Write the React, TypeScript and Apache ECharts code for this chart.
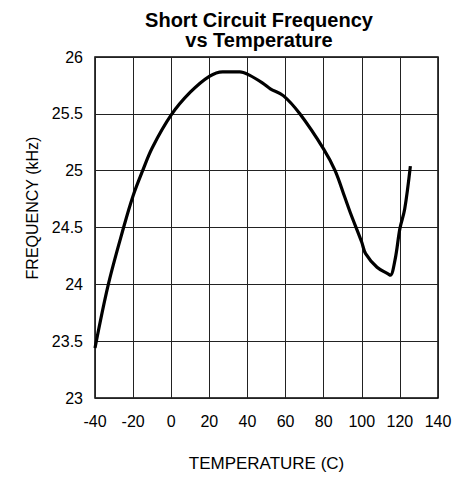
import React, { useEffect, useRef } from "react";
import * as echarts from "echarts";

const temperatures = [-40, -33, -25, -20, -15, -10, 0, 10, 20, 27, 36, 41, 48, 52, 58.8, 67.5, 80, 86, 91, 94, 100, 102, 108, 114, 115, 117.5, 120, 122.5, 125.5];
const frequencies = [23.44, 24.0, 24.5, 24.78, 25.0, 25.2, 25.49, 25.69, 25.83, 25.87, 25.87, 25.84, 25.77, 25.72, 25.66, 25.5, 25.19, 25.0, 24.77, 24.63, 24.37, 24.27, 24.15, 24.09, 24.08, 24.22, 24.49, 24.66, 25.04];

const titleLine1 = "Short Circuit Frequency";
const titleLine2 = "vs Temperature";
const xAxisTitle = "TEMPERATURE (C)";
const yAxisTitle = "FREQUENCY (kHz)";

export default function App() {
  const ref = useRef<HTMLDivElement>(null);
  useEffect(() => {
    if (!ref.current) return;
    const chart = echarts.init(ref.current, null, { renderer: "svg" });
    const font = "Liberation Sans";
    const titleStyle = { fontFamily: font, fontWeight: "bold", fontSize: 20, color: "#000" };
    chart.setOption({
      animation: false,
      backgroundColor: "#ffffff",
      title: [
        { text: titleLine1, left: 254, top: 5, textAlign: "center", textStyle: titleStyle },
        { text: titleLine2, left: 254, top: 25, textAlign: "center", textStyle: titleStyle },
      ],
      grid: { left: 95, right: 18, top: 57, bottom: 77, show: true, borderColor: "#000", borderWidth: 1.5, backgroundColor: "transparent" },
      xAxis: {
        type: "value",
        min: -40,
        max: 140,
        interval: 20,
        axisLine: { show: false },
        axisTick: { show: false },
        splitLine: { show: true, lineStyle: { color: "#222", width: 1 } },
        axisLabel: { fontFamily: font, fontSize: 16, color: "#000", margin: 15 },
        name: xAxisTitle,
        nameLocation: "middle",
        nameGap: 57,
        nameTextStyle: { fontFamily: font, fontSize: 17, color: "#000" },
      },
      yAxis: {
        type: "value",
        min: 23,
        max: 26,
        interval: 0.5,
        axisLine: { show: false },
        axisTick: { show: false },
        splitLine: { show: true, lineStyle: { color: "#222", width: 1 } },
        axisLabel: { fontFamily: font, fontSize: 16, color: "#000", margin: 12 },
      },
      graphic: [
        {
          type: "text",
          x: 32,
          y: 208,
          rotation: Math.PI / 2,
          style: {
            text: yAxisTitle,
            fontFamily: font,
            fontSize: 16,
            fill: "#000",
            align: "center",
            verticalAlign: "middle",
          },
        },
      ],
      series: [
        {
          type: "line",
          data: temperatures.map((t, i) => [t, frequencies[i]]),
          showSymbol: false,
          smooth: 0.35,
          lineStyle: { color: "#000", width: 3.2 },
        },
      ],
    });
    return () => chart.dispose();
  }, []);
  return <div ref={ref} style={{ position: "fixed", left: 0, top: 0, width: 456, height: 477 }} />;
}
